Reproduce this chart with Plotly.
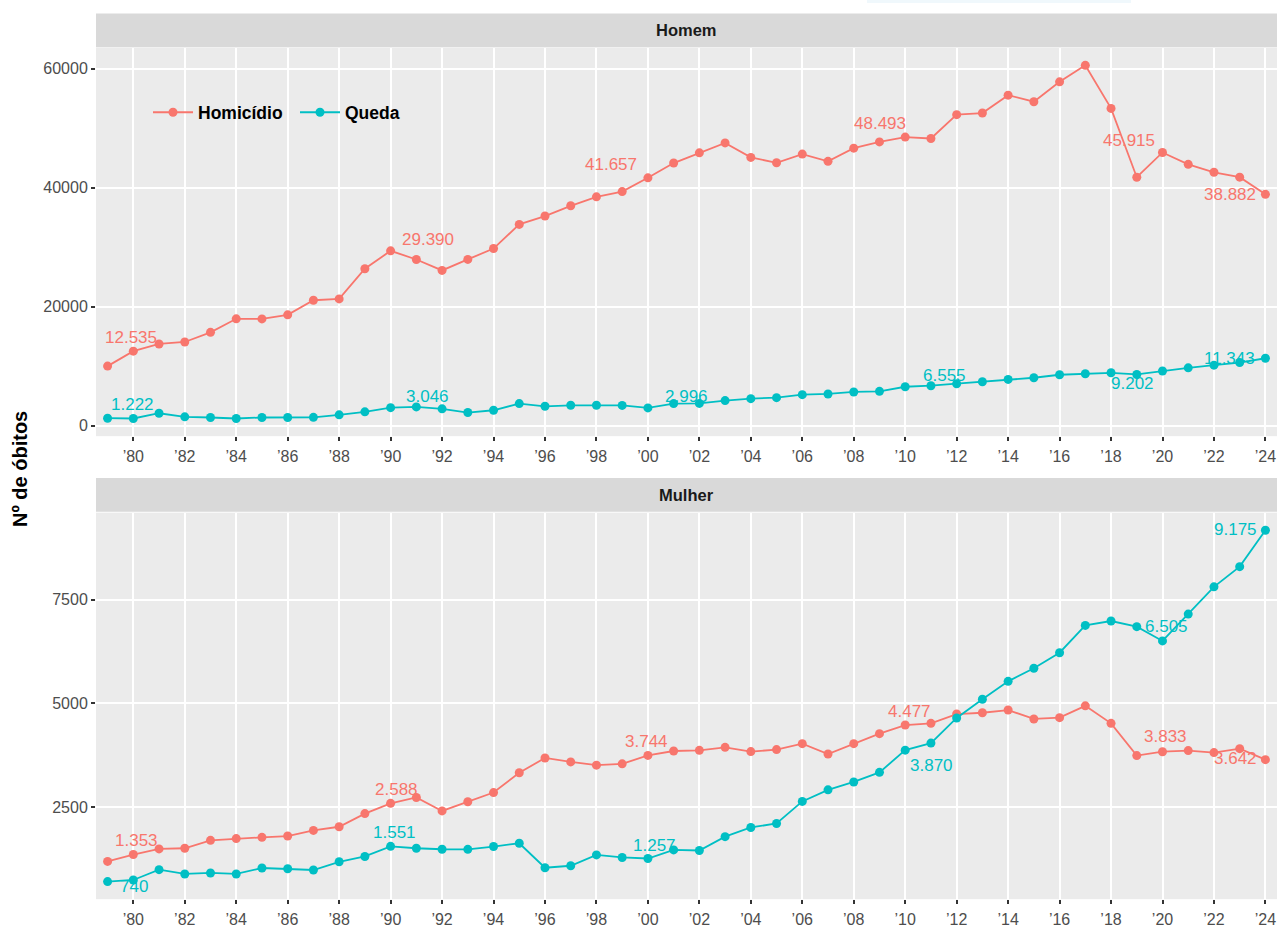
import plotly.graph_objects as go

# Annual deaths by cause and sex, 1979-2024
years = list(range(1979, 2025))

homem_homicidio = [10020, 12535, 13744, 14077, 15697, 17968, 17950, 18636, 21090, 21308,
                   26384, 29390, 27937, 26100, 27950, 29774, 33832, 35235, 36955, 38458,
                   39343, 41657, 44136, 45855, 47525, 45087, 44185, 45638, 44419, 46640,
                   47692, 48493, 48260, 52268, 52536, 55541, 54439, 57779, 60550, 53320,
                   41748, 45915, 43918, 42582, 41760, 38882]
homem_queda = [1270, 1222, 2104, 1500, 1390, 1220, 1390, 1390, 1420, 1837,
               2338, 3046, 3173, 2839, 2221, 2605, 3724, 3273, 3440, 3440,
               3420, 2996, 3724, 3750, 4225, 4559, 4726, 5227, 5344, 5678,
               5778, 6555, 6730, 7064, 7398, 7782, 8066, 8567, 8734, 8901,
               8617, 9202, 9736, 10186, 10621, 11343]

mulher_homicidio = [1188, 1353, 1489, 1505, 1696, 1737, 1768, 1799, 1935, 2023,
                    2340, 2588, 2729, 2405, 2626, 2848, 3325, 3683, 3588, 3509,
                    3540, 3744, 3850, 3867, 3938, 3836, 3884, 4027, 3779, 4027,
                    4268, 4477, 4518, 4742, 4773, 4838, 4623, 4654, 4940, 4518,
                    3740, 3833, 3860, 3812, 3907, 3642]
mulher_queda = [701, 740, 988, 885, 909, 885, 1028, 1011, 980, 1178,
                1307, 1551, 1505, 1481, 1478, 1546, 1625, 1035, 1083, 1345,
                1283, 1257, 1465, 1450, 1784, 2006, 2102, 2634, 2913, 3104,
                3335, 3870, 4041, 4647, 5100, 5530, 5847, 6221, 6880, 6985,
                6849, 6505, 7152, 7810, 8297, 9175]

label_years = [1980, 1990, 2000, 2010, 2020, 2024]
x_ticks = list(range(1980, 2025, 2))
x_tick_text = ["\u2019" + str(y)[2:] for y in x_ticks]
top_y_ticks = [0, 20000, 40000, 60000]
bottom_y_ticks = [2500, 5000, 7500]

COL_HOM = "#F8766D"
COL_QUE = "#00BFC4"
FONT = "Liberation Sans, Arial, Helvetica, sans-serif"

W, H = 1277, 928


def px_x(p):
    return p / W


def px_y(p):
    return 1 - p / H


fig = go.Figure()

series = [
    ("Homicídio", homem_homicidio, COL_HOM, "x", "y", True),
    ("Queda", homem_queda, COL_QUE, "x", "y", True),
    ("Homicídio", mulher_homicidio, COL_HOM, "x2", "y2", False),
    ("Queda", mulher_queda, COL_QUE, "x2", "y2", False),
]
for name, vals, col, xa, ya, show in series:
    fig.add_trace(go.Scatter(
        x=years, y=vals, name=name, mode="lines+markers",
        line=dict(color=col, width=1.8),
        marker=dict(color=col, size=9),
        xaxis=xa, yaxis=ya, legendgroup=name, showlegend=show,
    ))

# value labels (pixel offsets from each labelled point)
label_offsets = {
    ("y", "hom"): [(-2, 14), (37, 11), (-37, 13), (-25, 14), (-34, 12), (-35, 0)],
    ("y", "que"): [(-1, 14), (37, 11), (39, 11), (39, 11), (-30, -13), (-36, 0)],
    ("y2", "hom"): [(3, 14), (6, 14), (-1, 14), (4, 14), (3, 15), (-30, 1)],
    ("y2", "que"): [(1, -7), (4, 14), (7, 13), (26, -15), (4, 14), (-30, 1)],
}
label_series = [
    ("x", "y", "hom", homem_homicidio, COL_HOM),
    ("x", "y", "que", homem_queda, COL_QUE),
    ("x2", "y2", "hom", mulher_homicidio, COL_HOM),
    ("x2", "y2", "que", mulher_queda, COL_QUE),
]
annotations = []
for xa, ya, key, vals, col in label_series:
    for (yr, (dx, dy)) in zip(label_years, label_offsets[(ya, key)]):
        v = vals[years.index(yr)]
        annotations.append(dict(
            x=yr, y=v, xref=xa, yref=ya, text=f"{v:,}".replace(",", "."),
            showarrow=False, xshift=dx, yshift=dy, xanchor="center", yanchor="middle",
            font=dict(family=FONT, size=17, color=col),
        ))

# facet strips
strip_top = [(13.5, 47.5, "Homem"), (481, 515, "Mulher")]
shapes = []
for y0, y1, title in strip_top:
    shapes.append(dict(type="rect", xref="paper", yref="paper",
                       x0=px_x(96), x1=1, y0=px_y(y1), y1=px_y(y0),
                       fillcolor="#D9D9D9", line=dict(width=0), layer="below"))
    annotations.append(dict(x=(px_x(96) + 1) / 2, y=px_y((y0 + y1) / 2), xref="paper", yref="paper",
                            text=f"<b>{title}</b>", showarrow=False, xanchor="center", yanchor="middle",
                            font=dict(family=FONT, size=16.5, color="#1A1A1A")))

shapes.append(dict(type="rect", xref="paper", yref="paper",
                   x0=px_x(867), x1=px_x(1131), y0=px_y(3), y1=1,
                   fillcolor="#F0F8FC", line=dict(width=0), layer="below"))

annotations.append(dict(x=px_x(20), y=px_y(472), xref="paper", yref="paper",
                        text="<b>Nº de óbitos</b>", showarrow=False, textangle=-90,
                        xanchor="center", yanchor="middle",
                        font=dict(family=FONT, size=20, color="#000000")))


def padded(lo, hi, frac=0.05):
    d = (hi - lo) * frac
    return [lo - d, hi + d]


top_range = padded(min(homem_queda + homem_homicidio), max(homem_queda + homem_homicidio))
bot_range = padded(min(mulher_queda + mulher_homicidio), max(mulher_queda + mulher_homicidio))
x_range = padded(years[0], years[-1], 0.01)

xaxis_common = dict(
    range=x_range, tickvals=x_ticks, ticktext=x_tick_text,
    showgrid=True, gridcolor="#FFFFFF", gridwidth=1.8, zeroline=False,
    ticks="outside", ticklen=4, tickwidth=1.8, tickcolor="#333333",
    tickfont=dict(family=FONT, size=16, color="#4D4D4D"), showline=False,
    ticklabelstandoff=2,
    domain=[px_x(96), 1],
)
yaxis_common = dict(
    showgrid=True, gridcolor="#FFFFFF", gridwidth=1.8, zeroline=False,
    ticks="outside", ticklen=4, tickwidth=1.8, tickcolor="#333333",
    tickfont=dict(family=FONT, size=16, color="#4D4D4D"), showline=False,
    tickformat="d",
)

fig.update_layout(
    width=W, height=H,
    margin=dict(l=0, r=0, t=0, b=0),
    paper_bgcolor="#FFFFFF", plot_bgcolor="#EBEBEB",
    xaxis=dict(**xaxis_common, anchor="y"),
    xaxis2=dict(**xaxis_common, anchor="y2"),
    yaxis=dict(**yaxis_common, range=top_range, tickvals=top_y_ticks,
               domain=[px_y(439), px_y(48)], anchor="x"),
    yaxis2=dict(**yaxis_common, range=bot_range, tickvals=bottom_y_ticks,
                domain=[px_y(905), px_y(516)], anchor="x2"),
    showlegend=True,
    legend=dict(orientation="h", x=px_x(148), y=px_y(95), xanchor="left", yanchor="top",
                bgcolor="rgba(0,0,0,0)",
                font=dict(family=FONT, size=17.5, color="#000000", weight="bold"),
                itemwidth=40, entrywidth=92, entrywidthmode="pixels", tracegroupgap=0),
    annotations=annotations,
    shapes=shapes,
    font=dict(family=FONT),
)

fig.write_html("out.html")
